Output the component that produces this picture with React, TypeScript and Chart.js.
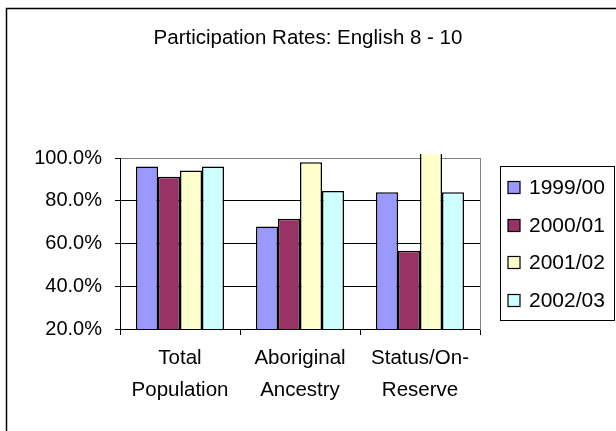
import React, { useEffect, useRef } from "react";
import { Chart, registerables } from "chart.js";

Chart.register(...registerables);

const chartTitle = "Participation Rates: English 8 - 10";
const categories = [
  ["Total", "Population"],
  ["Aboriginal", "Ancestry"],
  ["Status/On-", "Reserve"],
];
const seriesLabels = ["1999/00", "2000/01", "2001/02", "2002/03"];
const values1999 = [96.0, 68.0, 84.0];
const values2000 = [91.2, 71.6, 56.6];
const values2001 = [94.2, 98.0, 105.0];
const values2002 = [96.0, 84.6, 84.0];
const seriesColors = ["#9999FF", "#993366", "#FFFFCC", "#CCFFFF"];
const yMin = 20;
const yMax = 100;
const yStep = 20;

const FONT = "'Liberation Sans', Arial, sans-serif";

const framePlugin = {
  id: "outerFrame",
  afterDraw(chart: any) {
    const ctx = chart.ctx;
    ctx.save();
    ctx.strokeStyle = "#000";
    ctx.lineWidth = 1.5;
    ctx.strokeRect(6.5, 8.5, chart.width + 20, chart.height + 20);
    ctx.restore();
  },
};

const legendPlugin = {
  id: "boxLegend",
  afterDraw(chart: any) {
    const ctx = chart.ctx;
    const area = chart.chartArea;
    const left = area.right + 20.5;
    const top = 166.5;
    const w = 114;
    const h = 154;
    ctx.save();
    ctx.strokeStyle = "#000";
    ctx.lineWidth = 1;
    ctx.fillStyle = "#fff";
    ctx.fillRect(left, top, w, h);
    ctx.strokeRect(left, top, w, h);
    ctx.font = `21px ${FONT}`;
    ctx.textBaseline = "middle";
    ctx.textAlign = "left";
    chart.data.datasets.forEach((ds: any, i: number) => {
      const cy = Math.round(187 + i * 37.7);
      ctx.fillStyle = ds.backgroundColor;
      ctx.fillRect(left + 7.5, cy - 6, 12, 12);
      ctx.strokeStyle = "#000";
      ctx.lineWidth = 1.2;
      ctx.strokeRect(left + 7.5, cy - 5.5, 12, 12);
      ctx.fillStyle = "#000";
      ctx.fillText(ds.label, left + 28.5, cy + 1);
    });
    ctx.restore();
  },
};

export default function App() {
  const canvasRef = useRef<HTMLCanvasElement | null>(null);

  useEffect(() => {
    const canvas = canvasRef.current;
    if (!canvas) return;
    const seriesValues = [values1999, values2000, values2001, values2002];
    const chart = new Chart(canvas, {
      type: "bar",
      data: {
        labels: categories,
        datasets: seriesLabels.map((label, i) => ({
          label,
          data: seriesValues[i],
          backgroundColor: seriesColors[i],
          borderColor: "#000",
          borderWidth: 1.5,
          categoryPercentage: 0.7333,
          barPercentage: 1.0,
          clip: { left: 0, top: 4, right: 0, bottom: 0 },
        })),
      },
      options: {
        responsive: false,
        animation: false,
        layout: { padding: 0 },
        plugins: {
          legend: { display: false },
          tooltip: { enabled: false },
          title: {
            display: true,
            text: chartTitle,
            color: "#000",
            font: { family: FONT, size: 20.5, weight: "normal", lineHeight: 1.2 },
            padding: { top: 26, bottom: 107.4 },
          },
        },
        scales: {
          x: {
            grid: {
              drawOnChartArea: false,
              drawTicks: true,
              tickLength: 6,
              color: "#000",
              tickColor: "#000",
              offset: true,
            },
            border: { display: true, color: "#000", width: 1 },
            ticks: {
              color: "#000",
              padding: 7,
              autoSkip: false,
              maxRotation: 0,
              font: { family: FONT, size: 20.5, lineHeight: 1.56 },
            },
            afterFit: (s: any) => {
              s.height = 102;
            },
          },
          y: {
            position: "left",
            min: yMin,
            max: yMax,
            ticks: {
              stepSize: yStep,
              padding: 13,
              color: "#000",
              font: { family: FONT, size: 20 },
              callback: (v: any) => Number(v).toFixed(1) + "%",
            },
            grid: {
              color: (c: any) => (c.tick && c.tick.value === yMax ? "#808080" : "#000"),
              tickColor: "#000",
              tickLength: 5,
              lineWidth: 1,
            },
            border: { display: true, color: "#000", width: 1 },
            afterFit: (s: any) => {
              s.width = 120;
            },
          },
          y2: {
            position: "right",
            display: true,
            grid: { display: false, drawTicks: false },
            ticks: { display: false },
            border: { display: true, color: "#808080", width: 1 },
            afterFit: (s: any) => {
              s.width = 136;
            },
          },
        },
      },
      plugins: [framePlugin, legendPlugin],
    } as any);
    return () => chart.destroy();
  }, []);

  return (
    <div style={{ position: "fixed", left: 0, top: 0, width: 616, height: 431, background: "#fff" }}>
      <canvas ref={canvasRef} width={616} height={431} style={{ display: "block" }} />
    </div>
  );
}
